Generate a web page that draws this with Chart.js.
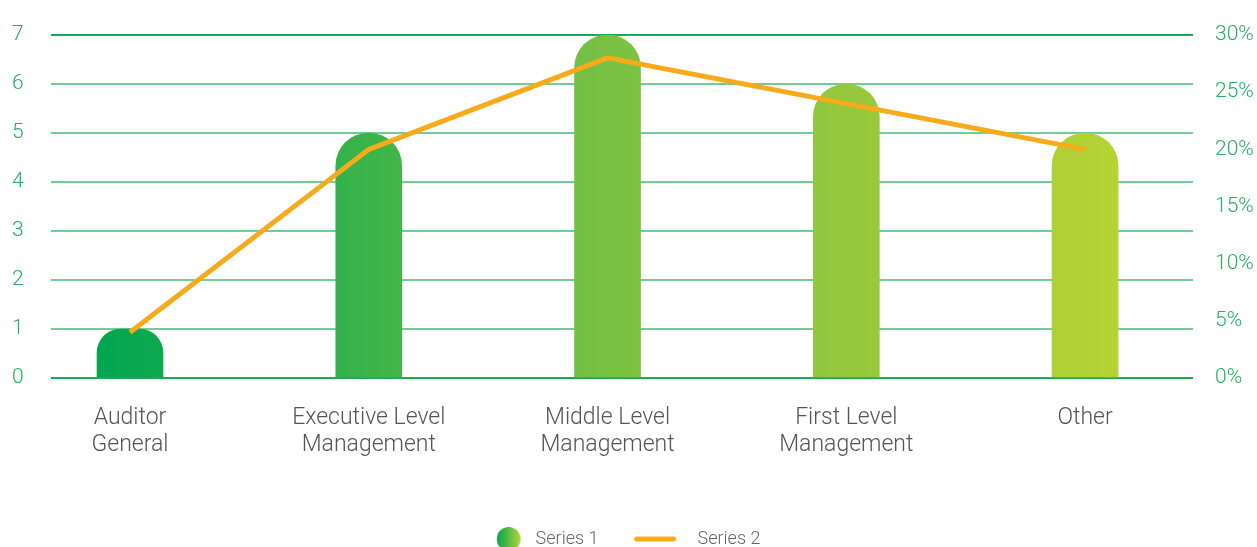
<!DOCTYPE html>
<html>
<head>
<meta charset="utf-8">
<script src="https://cdn.jsdelivr.net/npm/chart.js@4.4.1/dist/chart.umd.min.js"></script>
<style>
  html, body { margin: 0; padding: 0; background: #fff; }
  #wrap { width: 1257px; height: 547px; position: relative; }
</style>
</head>
<body>
<div id="wrap"><canvas id="chart"></canvas></div>
<script>
// Chart data
const categories = [["Auditor", "General"], ["Executive Level", "Management"], ["Middle Level", "Management"], ["First Level", "Management"], ["Other"]];
const series1 = [1, 5, 7, 6, 5];
const series2 = [4, 20, 28, 24, 20];
const leftTicks = [0, 1, 2, 3, 4, 5, 6, 7];
const rightTicks = [0, 5, 10, 15, 20, 25, 30];

const GREEN_STOPS = ["#00a651", "#37b34a", "#79c143", "#97c83c", "#b5d334"];
const ORANGE = "#f7ab1b";
const TICK_GREEN = "#22b062";
const FONT = "Roboto";

// gradient across the bars, left to right
function getBarGradient(chart) {
  const { ctx, chartArea } = chart;
  if (!chartArea) return GREEN_STOPS[0];
  const x0 = chart.scales.x.getPixelForValue(0) - 33;
  const x1 = chart.scales.x.getPixelForValue(4) + 33;
  const grad = ctx.createLinearGradient(x0, 0, x1, 0);
  GREEN_STOPS.forEach((c, i) => grad.addColorStop(i / (GREEN_STOPS.length - 1), c));
  return grad;
}

// small images for the legend markers (slot is 30px wide)
function makeCircleMarker() {
  const c = document.createElement("canvas");
  c.width = 30; c.height = 24;
  const g = c.getContext("2d");
  const grad = g.createLinearGradient(0, 0, 24, 0);
  grad.addColorStop(0, GREEN_STOPS[0]);
  grad.addColorStop(1, GREEN_STOPS[4]);
  g.fillStyle = grad;
  g.beginPath();
  g.arc(12, 12, 12, 0, Math.PI * 2);
  g.fill();
  return c;
}
function makeLineMarker() {
  const c = document.createElement("canvas");
  c.width = 80; c.height = 8;
  const g = c.getContext("2d");
  g.strokeStyle = ORANGE;
  g.lineWidth = 5;
  g.lineCap = "round";
  g.beginPath();
  g.moveTo(3, 4);
  g.lineTo(40, 4);
  g.stroke();
  return c;
}
const circleMarker = makeCircleMarker();
const lineMarker = makeLineMarker();

// push the legend a bit lower and recentre it on the canvas
const legendNudge = {
  id: "legendNudge",
  afterLayout(chart) {
    if (chart.legend) {
      chart.legend.top += 11;
      chart.legend.bottom += 11;
      chart.legend.left -= 6;
      chart.legend.right -= 6;
    }
  },
};

const barData = series1.map((v, i) => ({ x: i, y: v }));
const lineData = series2.map((v, i) => ({ x: i, y: v }));

const ctx = document.getElementById("chart").getContext("2d");
new Chart(ctx, {
  data: {
    datasets: [
      {
        type: "line",
        label: "Series 2",
        data: lineData,
        yAxisID: "y1",
        borderColor: ORANGE,
        borderWidth: 5,
        pointRadius: 0,
        tension: 0,
        order: 0,
      },
      {
        type: "bar",
        label: "Series 1",
        data: barData,
        yAxisID: "y",
        backgroundColor: (c) => getBarGradient(c.chart),
        barThickness: 66,
        borderRadius: { topLeft: 33, topRight: 33, bottomLeft: 0, bottomRight: 0 },
        borderSkipped: "bottom",
        order: 1,
      },
    ],
  },
  plugins: [legendNudge],
  options: {
    responsive: true,
    maintainAspectRatio: false,
    animation: false,
    layout: { padding: { top: 35, left: 12, right: 0, bottom: 0 } },
    plugins: {
      tooltip: { enabled: false },
      legend: {
        position: "bottom",
        labels: {
          usePointStyle: true,
          pointStyleWidth: 30,
          boxHeight: 18,
          padding: 60,
          color: "#666",
          font: { family: FONT, size: 18, weight: "300" },
          generateLabels: () => [
            { text: "Series 1", pointStyle: circleMarker, fontColor: "#666", datasetIndex: 1, lineWidth: 0, strokeStyle: "transparent" },
            { text: "Series 2", pointStyle: lineMarker, fontColor: "#666", datasetIndex: 0, lineWidth: 0, strokeStyle: "transparent" },
          ],
        },
      },
    },
    scales: {
      x: {
        type: "linear",
        offset: false,
        min: -0.331,
        max: 4.452,
        grid: { display: false, drawTicks: false },
        border: { display: false },
        afterBuildTicks: (scale) => {
          scale.ticks = categories.map((c, i) => ({ value: i }));
        },
        afterFit: (scale) => { scale.height = 81; },
        ticks: {
          padding: 27,
          color: "#555",
          font: { family: FONT, size: 23, weight: "300", lineHeight: 1.17 },
          maxRotation: 0,
          autoSkip: false,
          callback: (v) => categories[v],
        },
      },
      y: {
        position: "left",
        min: 0,
        max: 7,
        afterBuildTicks: (scale) => {
          scale.ticks = leftTicks.map((v) => ({ value: v }));
        },
        afterFit: (scale) => { scale.width = 39; },
        grid: {
          drawTicks: false,
          lineWidth: 2,
          color: (c) => (c.tick.value === 7 || c.tick.value === 0 ? "#1fa955" : "#72cc98"),
        },
        border: { display: false },
        ticks: {
          padding: 0,
          crossAlign: "far",
          color: TICK_GREEN,
          font: { family: FONT, size: 21, weight: "300" },
        },
      },
      y1: {
        position: "right",
        min: 0,
        max: 30,
        afterBuildTicks: (scale) => {
          scale.ticks = rightTicks.map((v) => ({ value: v }));
        },
        afterFit: (scale) => { scale.width = 64; },
        grid: { drawOnChartArea: false, drawTicks: false },
        border: { display: false },
        ticks: {
          padding: 22,
          color: TICK_GREEN,
          font: { family: FONT, size: 21, weight: "300" },
          callback: (v) => v + "%",
        },
      },
    },
  },
});
</script>
</body>
</html>
